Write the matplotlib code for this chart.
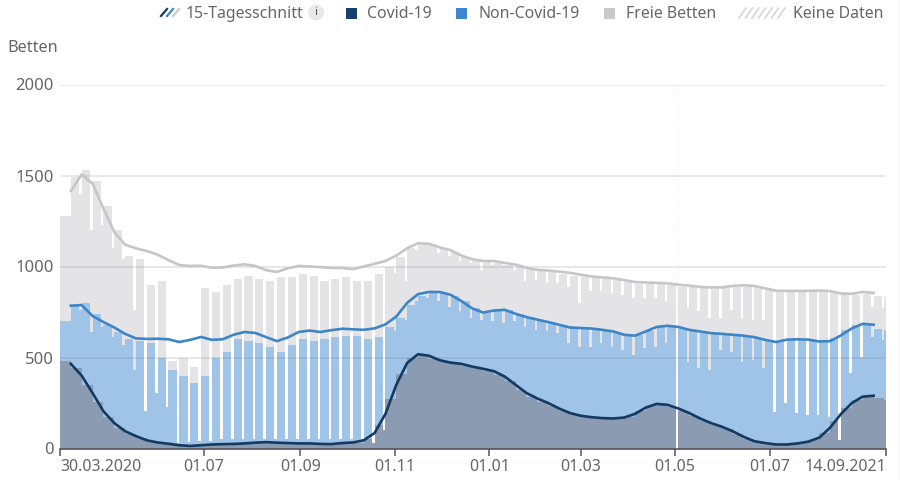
import matplotlib
matplotlib.use("Agg")
import matplotlib.pyplot as plt
import numpy as np
from matplotlib.lines import Line2D
from matplotlib.patches import Circle, Rectangle

plt.rcParams["font.family"] = ["Noto Sans", "DejaVu Sans"]

# values per week, from 30.03.2020 on: Monday to Friday bar, weekend bar
total_week = [1280, 1490, 1530, 1470, 1330, 1200, 1060, 1040, 900, 920,
              480, 500, 450, 880, 860, 900, 930, 950, 930, 920,
              940, 940, 960, 950, 920, 930, 940, 920, 920, 960,
              1000, 1050, 1100, 1130, 1120, 1095, 1080, 1050, 1030, 1025,
              1020, 1010, 1000, 985, 975, 970, 960, 950, 945, 935,
              930, 925, 915, 905, 905, 905, 900, 890, 885, 880,
              878, 880, 885, 890, 885, 870, 860, 860, 860, 860,
              860, 860, 848, 845, 850, 840, 835]
total_weekend = [1280, 1400, 1200, 1230, 1100, 1040, 760, 205, 305, 228,
                 30, 35, 40, 40, 50, 50, 50, 50, 50, 50,
                 50, 50, 50, 50, 50, 50, 50, 50, 30, 100,
                 965, 918, 1092, 1120, 1075, 1056, 1028, 1020, 982, 1010,
                 1010, 982, 918, 927, 910, 910, 890, 800, 863, 863,
                 855, 845, 826, 826, 826, 808, 0, 772, 753, 718,
                 718, 763, 718, 707, 707, 202, 250, 195, 184, 184,
                 173, 47, 415, 505, 780, 772, 835]
occupied_week = [700, 790, 800, 740, 680, 640, 600, 590, 580, 500,
                 430, 400, 360, 400, 500, 530, 600, 590, 580, 560,
                 530, 570, 600, 590, 600, 610, 620, 620, 600, 610,
                 670, 715, 790, 840, 860, 855, 840, 810, 770, 745,
                 760, 760, 740, 720, 705, 695, 680, 660, 658, 652,
                 645, 635, 620, 625, 645, 665, 670, 660, 645, 638,
                 630, 625, 620, 612, 605, 590, 585, 595, 598, 590,
                 585, 605, 650, 680, 680, 655, 650]
occupied_weekend = [700, 760, 640, 670, 610, 570, 432, 205, 305, 228,
                    30, 35, 40, 40, 50, 50, 50, 50, 50, 50,
                    50, 50, 50, 50, 50, 50, 50, 50, 30, 100,
                    643, 707, 808, 826, 808, 780, 758, 718, 707, 698,
                    690, 698, 668, 652, 643, 635, 580, 560, 560, 580,
                    560, 542, 515, 552, 560, 580, 0, 477, 442, 432,
                    542, 532, 477, 487, 442, 202, 250, 195, 184, 184,
                    173, 47, 415, 505, 615, 597, 650]
covid_week = [480, 445, 350, 255, 175, 115, 78, 55, 38, 28,
              20, 15, 15, 18, 22, 24, 25, 28, 32, 32,
              30, 28, 27, 25, 24, 24, 28, 32, 50, 130,
              270, 410, 500, 510, 490, 475, 465, 455, 442, 428,
              405, 370, 322, 285, 258, 232, 205, 185, 172, 165,
              163, 165, 175, 205, 235, 240, 228, 205, 178, 150,
              128, 105, 78, 50, 32, 24, 22, 24, 32, 45,
              85, 150, 220, 265, 283, 275, 268]

# 15-day average, one reading per week from 06.04.2020 on
avg_total = [1415, 1505, 1455, 1320, 1190, 1120, 1100, 1085, 1065, 1035,
             1008, 1003, 1004, 993, 995, 1005, 1012, 1003, 980, 970,
             990, 1003, 1000, 997, 992, 992, 985, 1000, 1015, 1030,
             1060, 1100, 1128, 1125, 1105, 1090, 1060, 1040, 1030, 1030,
             1020, 1010, 993, 982, 978, 972, 965, 955, 945, 940,
             935, 925, 915, 912, 910, 908, 900, 895, 888, 885,
             885, 893, 897, 893, 880, 867, 866, 866, 866, 868,
             865, 852, 850, 860, 855]
avg_occupied = [785, 788, 728, 695, 665, 630, 605, 602, 603, 600,
                585, 597, 613, 597, 600, 625, 640, 635, 612, 590,
                610, 640, 648, 640, 650, 658, 655, 652, 660, 682,
                725, 800, 848, 860, 860, 845, 810, 770, 747, 758,
                762, 740, 722, 708, 695, 680, 665, 662, 659, 652,
                643, 625, 620, 643, 668, 674, 668, 652, 643, 634,
                630, 625, 620, 612, 597, 585, 598, 600, 598, 588,
                590, 622, 660, 685, 680]
avg_covid = [465, 400, 305, 205, 140, 95, 68, 45, 33, 26,
             18, 14, 18, 22, 24, 25, 28, 32, 35, 32,
             30, 28, 28, 25, 24, 30, 33, 45, 85, 190,
             350, 470, 518, 510, 485, 472, 465, 450, 438, 425,
             395, 350, 305, 275, 250, 220, 195, 180, 172, 167,
             165, 170, 190, 225, 245, 240, 220, 195, 165, 140,
             120, 95, 65, 40, 30, 22, 22, 28, 38, 60,
             115, 190, 250, 285, 290]

tick_days = [0, 93, 155, 216, 277, 336, 397, 458, 533]
tick_labels = ["30.03.2020", "01.07", "01.09", "01.11", "01.01", "01.03", "01.05", "01.07", "14.09.2021"]
y_ticks = [0, 500, 1000, 1500, 2000]

TEXT = "#666666"
DARK = "#123a63"
BLUE = "#3d85c6"
LINE_GRAY = "#c6c6c8"

fig = plt.figure(figsize=(9, 4.8), dpi=100, facecolor="white")
ax = fig.add_axes([60 / 900, 31.5 / 480, 826 / 900, 364 / 480])

week_start = np.arange(len(total_week)) * 7
covid_weekend = np.minimum(covid_week, occupied_weekend)

for heights_wk, heights_we, color in [(total_week, total_weekend, "#e4e4e6"),
                                      (occupied_week, occupied_weekend, "#a0c3e8"),
                                      (covid_week, covid_weekend, "#8a9bb2")]:
    ax.bar(week_start, heights_wk, width=5.3, align="edge", color=color, linewidth=0, zorder=2)
    ax.bar(week_start + 5.3, heights_we, width=1.7, align="edge", color=color, linewidth=0, zorder=2)

ax.axvline(398, color="#f1f1f1", lw=1, ls=":", zorder=1)
for v in y_ticks[1:]:
    ax.axhline(v, color="#808080", alpha=0.2, lw=1.3, zorder=3)

line_days = week_start[1:76]
ax.plot(line_days, avg_total, color=LINE_GRAY, lw=1.9, zorder=4, solid_joinstyle="round")
ax.plot(line_days, avg_occupied, color=BLUE, lw=1.9, zorder=4, solid_joinstyle="round")
ax.plot(line_days, avg_covid, color=DARK, lw=1.9, zorder=4, solid_joinstyle="round")

ax.set_xlim(0, 533)
ax.set_ylim(0, 2000)
for s in ["top", "left", "right"]:
    ax.spines[s].set_visible(False)
ax.spines["bottom"].set_color("#555555")
ax.spines["bottom"].set_linewidth(1.2)
ax.set_yticks(y_ticks)
ax.set_xticks(tick_days)
ax.set_xticklabels(tick_labels)
ax.tick_params(axis="y", length=0, pad=4.5, labelsize=12, labelcolor=TEXT)
ax.tick_params(axis="x", length=5, width=1.1, color="#555555", pad=2.5, labelsize=11.5, labelcolor=TEXT)
ax.get_xticklabels()[0].set_ha("left")
ax.get_xticklabels()[-1].set_ha("right")

# legend and header drawn in pixel coordinates
top = fig.add_axes([0, 0, 1, 1], facecolor="none")
top.set_xlim(0, 900)
top.set_ylim(480, 0)
top.axis("off")
top.text(7, 48, "Betten", color=TEXT, fontsize=11.7, va="center")

for x0, c in [(161, DARK), (167, BLUE), (173, "#c9c9c9")]:
    top.add_line(Line2D([x0, x0 + 6], [16, 9], color=c, lw=1.6))
top.text(186, 14, "15-Tagesschnitt", color=TEXT, fontsize=11.4, va="center")
top.add_patch(Circle((316, 12.5), 8, color="#e8e8e8", lw=0))
top.text(316, 12.5, "i", color="#555555", fontsize=8, ha="center", va="center", fontweight="bold")

for x0, c, label, xt in [(346, "#173f6e", "Covid-19", 367),
                         (456, "#3d85d0", "Non-Covid-19", 478),
                         (604, "#c9c9c9", "Freie Betten", 626)]:
    top.add_patch(Rectangle((x0, 8), 11, 10.5, color=c, lw=0))
    top.text(xt, 14, label, color=TEXT, fontsize=11.4, va="center")

for x0 in np.arange(739, 779, 6.5):
    top.add_line(Line2D([x0, x0 + 7], [18, 8], color="#d2d2d2", lw=1.1))
top.text(793, 14, "Keine Daten", color=TEXT, fontsize=11.4, va="center")

top.add_line(Line2D([899.5, 899.5], [0, 480], color="#333333", lw=0.8))

fig.savefig("out.png", dpi=100)
